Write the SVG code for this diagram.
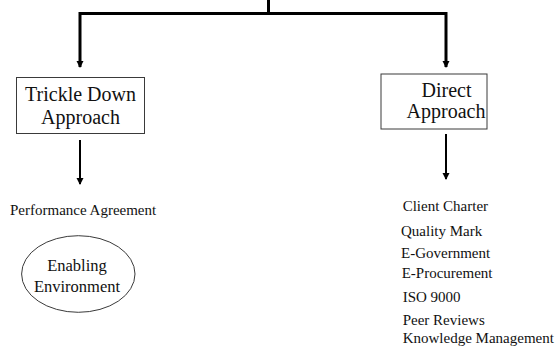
<svg xmlns="http://www.w3.org/2000/svg" width="558" height="350" viewBox="0 0 558 350">
  <style>
    .box { fill: #ffffff; stroke: #3a3a3a; stroke-width: 1; }
    .wire { fill: none; stroke: #000000; stroke-width: 3; }
    .shaft { fill: none; stroke: #000000; stroke-width: 2; }
    text { font-family: "Liberation Serif", "Tinos", "Times New Roman", "DejaVu Serif", serif; fill: #111111; }
    .t20 { font-size: 20px; }
    .t16 { font-size: 16.5px; }
    .t15 { font-size: 15px; }
  </style>
  <defs>
    <marker id="head" markerUnits="userSpaceOnUse" markerWidth="8" markerHeight="8" refX="6" refY="3.5" orient="auto">
      <path d="M0,0 L7,3.5 L0,7 Z" fill="#000000"/>
    </marker>
  </defs>

  <!-- connectors -->
  <g id="connectors">
    <path class="wire" d="M268.5,0 V13.5"/>
    <path class="wire" d="M80,13.5 H446"/>
    <path class="wire" d="M80,12 V67" marker-end="url(#head)"/>
    <path class="wire" d="M446,12 V67" marker-end="url(#head)"/>
    <path class="shaft" d="M80,140 V184" marker-end="url(#head)"/>
    <path class="shaft" d="M446,134 V179" marker-end="url(#head)"/>
  </g>

  <!-- left branch -->
  <g id="trickle-down">
    <rect class="box" x="16.5" y="77.5" width="128" height="56"/>
    <text class="t20" x="80.5" y="101" text-anchor="middle">Trickle Down</text>
    <text class="t20" x="80.5" y="124" text-anchor="middle">Approach</text>
  </g>

  <g id="performance-agreement">
    <text class="t15" x="10" y="215">Performance Agreement</text>
  </g>

  <g id="enabling-environment">
    <ellipse class="box" cx="78.3" cy="274" rx="56.7" ry="38.3"/>
    <text class="t16" x="77" y="271" text-anchor="middle">Enabling</text>
    <text class="t16" x="77" y="291.5" text-anchor="middle">Environment</text>
  </g>

  <!-- right branch -->
  <g id="direct">
    <rect class="box" x="381" y="74" width="106" height="55"/>
    <text class="t20" x="446.5" y="97" text-anchor="middle">Direct</text>
    <text class="t20" x="446" y="118" text-anchor="middle">Approach</text>
  </g>

  <g id="direct-measures">
    <text class="t15" x="402.7" y="210.7">Client Charter</text>
    <text class="t15" x="401" y="235.7">Quality Mark</text>
    <text class="t15" x="401" y="258.3">E-Government</text>
    <text class="t15" x="401.7" y="278.3">E-Procurement</text>
    <text class="t15" x="402.7" y="302.3">ISO 9000</text>
    <text class="t15" x="402.7" y="325">Peer Reviews</text>
    <text class="t15" x="402.7" y="343.3">Knowledge Management</text>
  </g>
</svg>
